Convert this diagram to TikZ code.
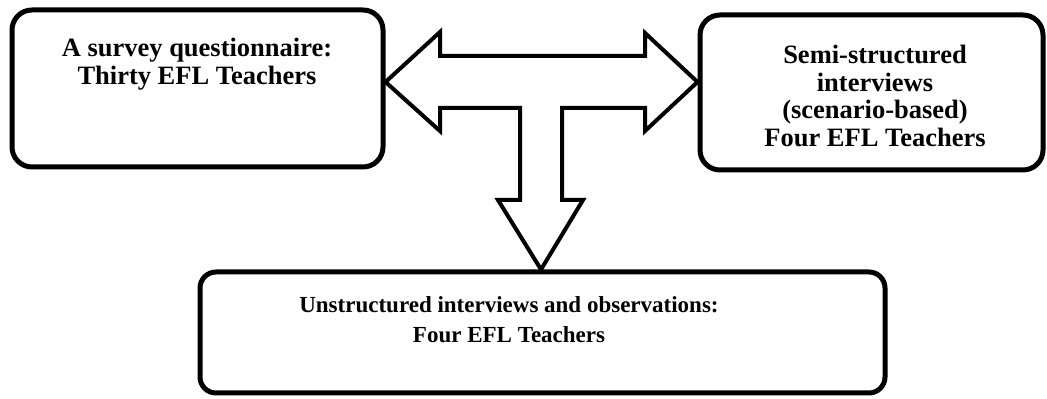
\documentclass[tikz,border=0pt]{standalone}
\usepackage{fontspec}
\setmainfont{Liberation Serif}
\tikzset{
  stagebox/.style={draw,line width=2.5pt,rounded corners=10pt,inner sep=0pt},
  stagetext/.style={align=center,font=\bfseries\fontsize{13.25}{13.75}\selectfont},
}
\begin{document}
\begin{tikzpicture}[x=0.5pt,y=-0.5pt]
\useasboundingbox (0,0) rectangle (1047,399);
\node[stagebox,minimum width=185.5pt,minimum height=78.5pt] (survey) at (197.5,88.5) {};
\node[stagetext] (surveytext) at (197,64) {A survey questionnaire:\\Thirty EFL Teachers};
\node[stagebox,minimum width=171.5pt,minimum height=77.5pt] (semi) at (871.5,92.5) {};
\node[stagetext] (semitext) at (875,96) {Semi-structured\\interviews\\(scenario-based)\\Four EFL Teachers};
\node[stagebox,rounded corners=8pt,minimum width=342.5pt,minimum height=60.5pt] (study) at (542.5,332.5) {};
\node[stagetext,font=\bfseries\fontsize{11.5}{15}\selectfont] (studytext) at (509,320) {Unstructured interviews and observations:\\Four EFL Teachers};
\coordinate (hub) at (541,82);
\draw[line width=2pt] (survey.east |- hub) -- (440,32) -- (440,56) -- (645,56) -- (645,33)
  -- (semi.west |- hub) -- (645,131) -- (645,108) -- (562,108) -- (562,200) -- (583,200)
  -- (hub |- study.north) -- (498,200) -- (520,200) -- (520,108) -- (440,108) -- (440,131) -- cycle;
\end{tikzpicture}
\end{document}
